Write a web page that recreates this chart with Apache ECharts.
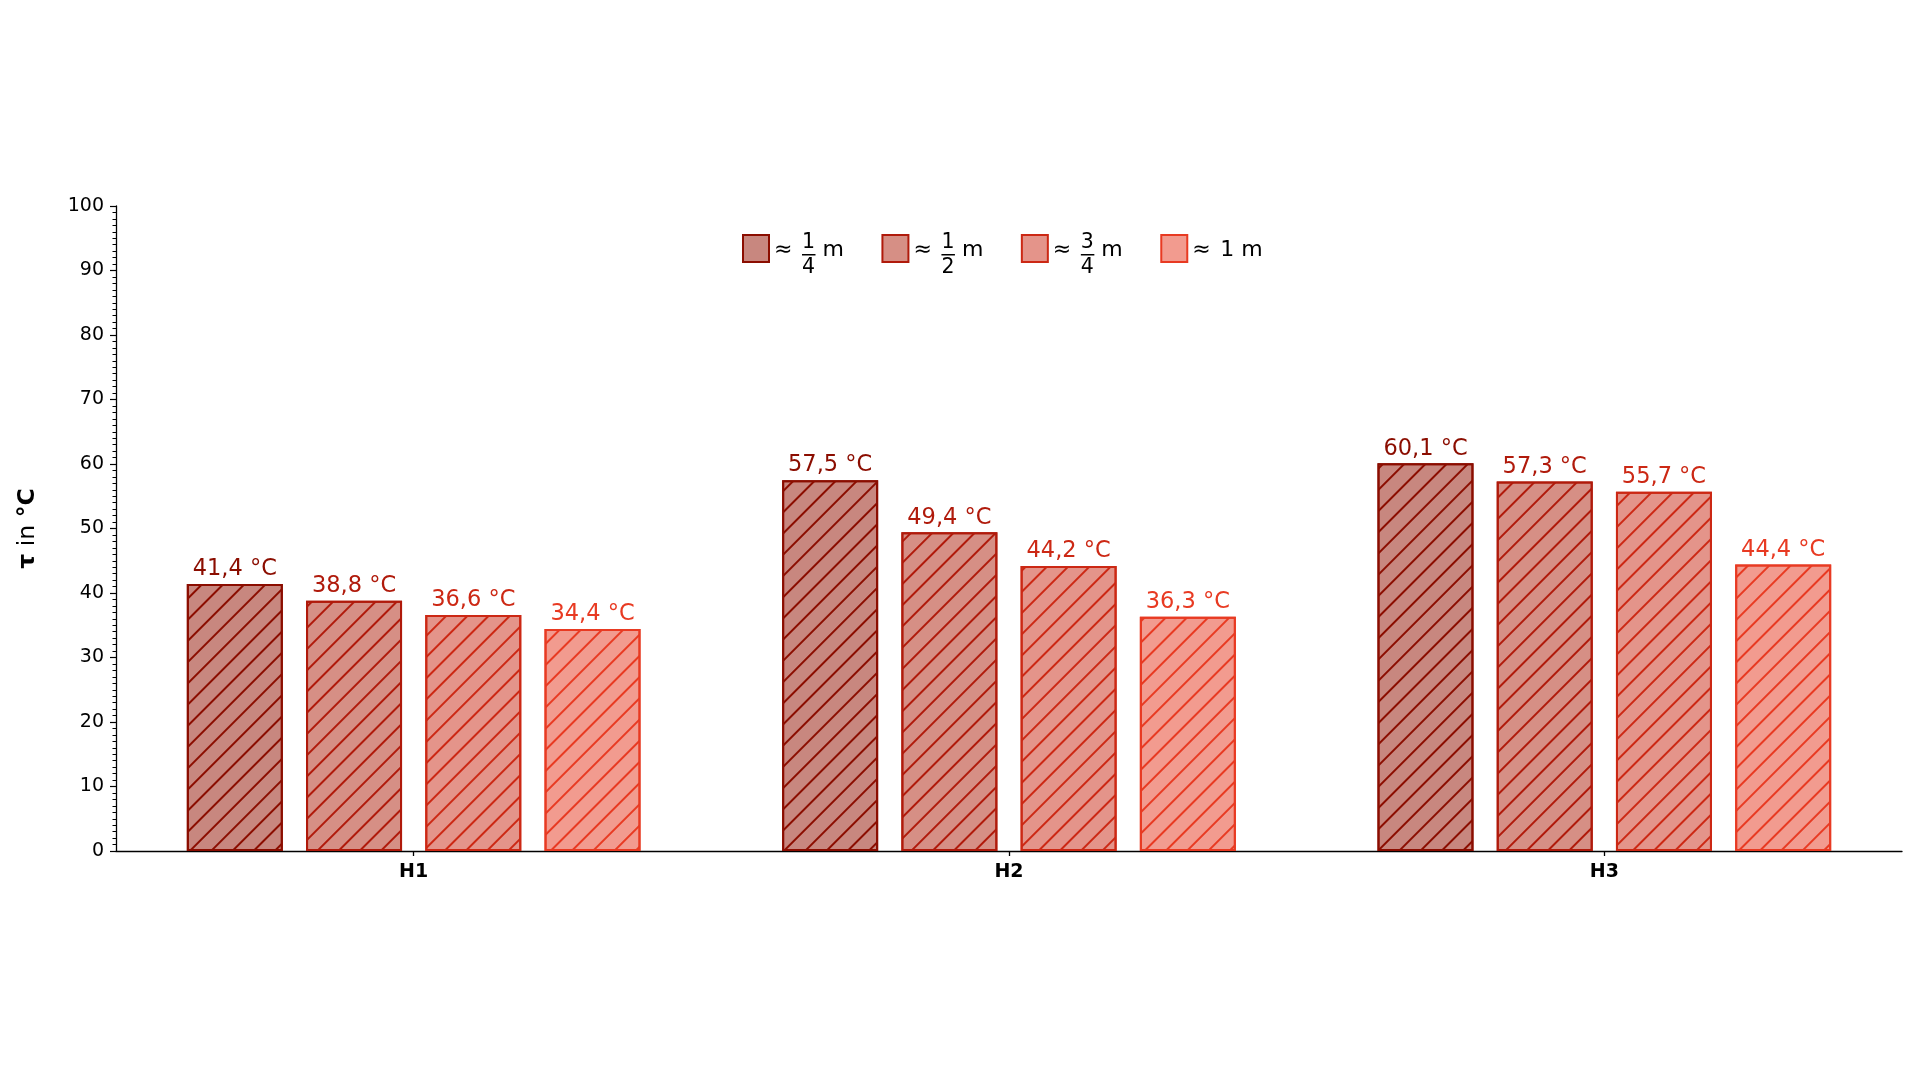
<!DOCTYPE html>
<html>
<head>
<meta charset="utf-8">
<script src="https://cdn.jsdelivr.net/npm/echarts@6/dist/echarts.min.js"></script>
<style>
html,body{margin:0;padding:0;background:#fff;}
#chart{width:1920px;height:1080px;}
</style>
</head>
<body>
<div id="chart"></div>
<script>
// ---- data ----
const categories = ['H1', 'H2', 'H3'];
const seriesNames = ['≈ 1/4 m', '≈ 1/2 m', '≈ 3/4 m', '≈ 1 m'];
const legendNumerators = ['1', '1', '3', null];
const legendDenominators = ['4', '2', '4', null];
const quarterValues = [41.4, 57.5, 60.1];
const halfValues = [38.8, 49.4, 57.3];
const threeQuarterValues = [36.6, 44.2, 55.7];
const oneValues = [34.4, 36.3, 44.4];
const yTicks = [0, 10, 20, 30, 40, 50, 60, 70, 80, 90, 100];

// ---- styles ----
const edgeColors = ['#8b0d00', '#b01a0b', '#cc2814', '#e83a22'];
const fillColors = ['#c8877f', '#d68f85', '#e4948a', '#f29b8f'];
const FONT = 'DejaVu Sans';
const allValues = [quarterValues, halfValues, threeQuarterValues, oneValues];

const chart = echarts.init(document.getElementById('chart'), null, {renderer: 'canvas'});

function fmt(v) {
  return v.toFixed(1).replace('.', ',') + ' °C';
}

const series = seriesNames.map((name, i) => ({
  name: name,
  type: 'bar',
  data: allValues[i],
  barWidth: 96,
  barGap: '24.2%',
  itemStyle: {
    color: fillColors[i],
    borderColor: edgeColors[i],
    borderWidth: 2,
    decal: {
      symbol: 'rect',
      symbolSize: 1,
      dashArrayX: [1, 0],
      dashArrayY: [1.2, 12.9],
      rotation: -Math.PI / 4,
      color: edgeColors[i],
      backgroundColor: null
    }
  },
  label: {
    show: true,
    position: 'top',
    distance: 3,
    formatter: p => fmt(p.value),
    color: edgeColors[i],
    fontFamily: FONT,
    fontSize: 22.5
  },
  emphasis: {disabled: true}
}));

const legendRich = {
  p0: {width: 1, fontSize: 1, lineHeight: 22},
  pad: {width: 28, fontSize: 1, lineHeight: 6},
  num: {fontFamily: FONT, fontSize: 20.5, color: '#000', width: 13, lineHeight: 6},
  eq: {fontFamily: FONT, fontSize: 22, color: '#000', width: 28, lineHeight: 10},
  bar: {width: 13.5, height: 1.5, lineHeight: 10, verticalAlign: 'bottom', backgroundColor: '#000', fontSize: 1},
  m: {fontFamily: FONT, fontSize: 22, color: '#000', lineHeight: 10},
  one: {fontFamily: FONT, fontSize: 22, color: '#000', width: 14, lineHeight: 10},
  pad3: {width: 28, fontSize: 1, lineHeight: 24},
  den: {fontFamily: FONT, fontSize: 20.5, color: '#000', width: 13, lineHeight: 24}
};

const option = {
  backgroundColor: '#ffffff',
  animation: false,
  textStyle: {fontFamily: FONT},
  grid: {left: 116, right: 18, top: 206, bottom: 229, containLabel: false},
  legend: {
    data: seriesNames,
    left: 742,
    top: 228,
    padding: 0,
    itemWidth: 26,
    itemHeight: 27,
    itemGap: 37.5,
    icon: 'rect',
    itemStyle: {decal: 'none'},
    selectedMode: false,
    formatter: function (name) {
      const i = seriesNames.indexOf(name);
      if (legendNumerators[i] === null) {
        return '{p0| }\n{pad| }\n{eq|≈ }{one|1}{m| m}\n{pad3| }';
      }
      return '{p0| }\n' +
             '{pad| }{num|' + legendNumerators[i] + '}\n' +
             '{eq|≈ }{bar| }{m| m}\n' +
             '{pad3| }{den|' + legendDenominators[i] + '}';
    },
    textStyle: {fontFamily: FONT, fontSize: 22, color: '#000', rich: legendRich}
  },
  xAxis: {
    type: 'category',
    data: categories,
    boundaryGap: true,
    axisLine: {show: true, lineStyle: {color: '#000', width: 1.3}},
    axisTick: {show: true, alignWithLabel: true, length: 5, lineStyle: {color: '#000', width: 1.3}},
    axisLabel: {color: '#000', fontFamily: FONT, fontSize: 19, fontWeight: 'bold', margin: 12},
    splitLine: {show: false}
  },
  yAxis: {
    type: 'value',
    min: yTicks[0],
    max: yTicks[yTicks.length - 1],
    interval: yTicks[1] - yTicks[0],
    name: '{b|τ} in {b|°C}',
    nameLocation: 'middle',
    nameRotate: 90,
    nameGap: 76,
    nameTextStyle: {
      fontFamily: FONT, fontSize: 23.5, color: '#000',
      rich: {b: {fontFamily: FONT, fontSize: 23.5, fontWeight: 'bold', color: '#000'}}
    },
    axisLine: {show: true, lineStyle: {color: '#000', width: 1.3}},
    axisTick: {show: true, length: 6, lineStyle: {color: '#000', width: 1.2}},
    minorTick: {show: true, splitNumber: 10, length: 3.5, lineStyle: {color: '#000', width: 1}},
    axisLabel: {color: '#000', fontFamily: FONT, fontSize: 19, margin: 12},
    splitLine: {show: false},
    minorSplitLine: {show: false}
  },
  series: series
};

chart.setOption(option);
</script>
</body>
</html>
